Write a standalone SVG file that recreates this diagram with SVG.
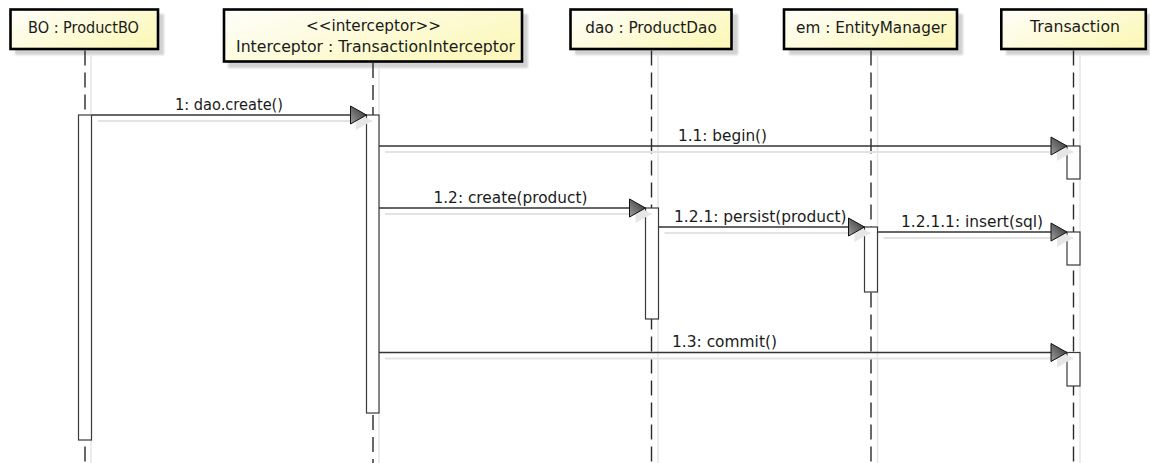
<svg xmlns="http://www.w3.org/2000/svg" width="1150" height="463" viewBox="0 0 1150 463">
<defs>
<style>
.box{fill:url(#boxFill);stroke:#000;stroke-width:2.6}
.bshadow{fill:#d2d2d2;filter:url(#soft)}
.life{stroke:#2a2a2a;stroke-width:1.4;stroke-dasharray:15 7;fill:none}
.lshadow{stroke:#e6e6e6;stroke-width:1.5;fill:none}
.act{fill:#fff;stroke:#3a3a3a;stroke-width:1.2}
.msg{stroke:#333;stroke-width:1.4;fill:none;marker-end:url(#arrow)}
.msgs{stroke:#e3e3e3;stroke-width:2;fill:none;marker-end:url(#arrowShadow)}
text{font-family:"DejaVu Sans","Liberation Sans",sans-serif;font-size:15px;fill:#1a1a1a;text-anchor:middle}
</style>
<linearGradient id="boxFill" x1="0" y1="0" x2="1" y2="0.6">
<stop offset="0" stop-color="#fefefb"/>
<stop offset="1" stop-color="#fcf8bd"/>
</linearGradient>
<linearGradient id="headFill" x1="1" y1="0" x2="0" y2="1">
<stop offset="0" stop-color="#2a2a2a"/>
<stop offset="1" stop-color="#a0a0a0"/>
</linearGradient>
<filter id="soft" x="-10%" y="-20%" width="120%" height="140%">
<feGaussianBlur stdDeviation="1"/>
</filter>
<marker id="arrow" markerUnits="userSpaceOnUse" viewBox="-1 -1 18 20" refX="16" refY="9" markerWidth="18" markerHeight="20" orient="auto" overflow="visible">
<path d="M0,0 L16,9 L0,18 Z" fill="url(#headFill)" stroke="#111" stroke-width="1"/>
</marker>
<marker id="arrowShadow" markerUnits="userSpaceOnUse" viewBox="-1 -1 18 20" refX="16" refY="9" markerWidth="18" markerHeight="20" orient="auto" overflow="visible">
<path d="M0,0 L16,9 L0,18 Z" fill="#e6e6e6"/>
</marker>
</defs>
<rect width="1150" height="463" fill="#fff"/>

<g id="node-bo">
<rect class="bshadow" x="15" y="14" width="149" height="41"/>
<rect class="box" x="10.5" y="9.5" width="147.5" height="39.5"/>
<text x="83.5" y="33" textLength="111" lengthAdjust="spacingAndGlyphs">BO : ProductBO</text>
<line class="lshadow" x1="91" y1="55" x2="91" y2="463"/>
<line class="life" x1="85" y1="50.5" x2="85" y2="463"/>
<rect class="act" x="78.5" y="115" width="13" height="325"/>
</g>

<g id="node-interceptor">
<rect class="bshadow" x="228" y="14" width="300" height="54"/>
<rect class="box" x="224" y="9.5" width="298" height="52"/>
<text x="373.5" y="31" textLength="135" lengthAdjust="spacingAndGlyphs">&lt;&lt;interceptor&gt;&gt;</text>
<text x="375.5" y="52" textLength="279" lengthAdjust="spacingAndGlyphs">Interceptor : TransactionInterceptor</text>
<line class="lshadow" x1="379" y1="68" x2="379" y2="463"/>
<line class="life" x1="373" y1="63" x2="373" y2="463"/>
<rect class="act" x="366.5" y="115" width="12.5" height="298"/>
</g>

<g id="node-dao">
<rect class="bshadow" x="575" y="14" width="163" height="41"/>
<rect class="box" x="570.5" y="9.5" width="161" height="39.5"/>
<text x="651" y="32.5" textLength="131.5" lengthAdjust="spacingAndGlyphs">dao : ProductDao</text>
<line class="lshadow" x1="658" y1="55" x2="658" y2="463"/>
<line class="life" x1="651.5" y1="50.5" x2="651.5" y2="463"/>
<rect class="act" x="645.5" y="208" width="13" height="111"/>
</g>

<g id="node-em">
<rect class="bshadow" x="789" y="14" width="174" height="41"/>
<rect class="box" x="784" y="9.5" width="173" height="39.5"/>
<text x="871.3" y="32.5" textLength="150.5" lengthAdjust="spacingAndGlyphs">em : EntityManager</text>
<line class="lshadow" x1="877.5" y1="55" x2="877.5" y2="463"/>
<line class="life" x1="871" y1="50.5" x2="871" y2="463"/>
<rect class="act" x="864.5" y="227" width="13" height="65"/>
</g>

<g id="node-transaction">
<rect class="bshadow" x="1006" y="14" width="144" height="41"/>
<rect class="box" x="1001.3" y="9.5" width="144.5" height="39.5"/>
<text x="1075" y="32" textLength="90" lengthAdjust="spacingAndGlyphs">Transaction</text>
<line class="lshadow" x1="1080" y1="55" x2="1080" y2="463"/>
<line class="life" x1="1073.5" y1="50.5" x2="1073.5" y2="463"/>
<rect class="act" x="1067" y="146" width="13" height="33"/>
<rect class="act" x="1067" y="232" width="13" height="33"/>
<rect class="act" x="1067" y="352.5" width="13" height="33.5"/>
</g>

<g id="connectors">
<g id="msg-1">
<line class="msgs" x1="98" y1="121" x2="372" y2="121"/>
<line class="msg" x1="92" y1="115" x2="366.5" y2="115"/>
<text x="229" y="109.5" textLength="108" lengthAdjust="spacingAndGlyphs">1: dao.create()</text>
</g>
<g id="msg-1-1">
<line class="msgs" x1="385" y1="152" x2="1073" y2="152"/>
<line class="msg" x1="379" y1="146" x2="1067" y2="146"/>
<text x="722.5" y="140.5" textLength="89" lengthAdjust="spacingAndGlyphs">1.1: begin()</text>
</g>
<g id="msg-1-2">
<line class="msgs" x1="385" y1="214" x2="651.5" y2="214"/>
<line class="msg" x1="379" y1="208" x2="645.5" y2="208"/>
<text x="510.5" y="203" textLength="154" lengthAdjust="spacingAndGlyphs">1.2: create(product)</text>
</g>
<g id="msg-1-2-1">
<line class="msgs" x1="664.5" y1="233" x2="870.5" y2="233"/>
<line class="msg" x1="658.5" y1="227" x2="864.5" y2="227"/>
<text x="760.3" y="222" textLength="172.5" lengthAdjust="spacingAndGlyphs">1.2.1: persist(product)</text>
</g>
<g id="msg-1-2-1-1">
<line class="msgs" x1="883.5" y1="238" x2="1073" y2="238"/>
<line class="msg" x1="877.5" y1="232" x2="1067" y2="232"/>
<text x="972" y="227" textLength="142" lengthAdjust="spacingAndGlyphs">1.2.1.1: insert(sql)</text>
</g>
<g id="msg-1-3">
<line class="msgs" x1="385" y1="358.5" x2="1073" y2="358.5"/>
<line class="msg" x1="379" y1="352.5" x2="1067" y2="352.5"/>
<text x="724.5" y="347" textLength="105" lengthAdjust="spacingAndGlyphs">1.3: commit()</text>
</g>
</g>
</svg>
